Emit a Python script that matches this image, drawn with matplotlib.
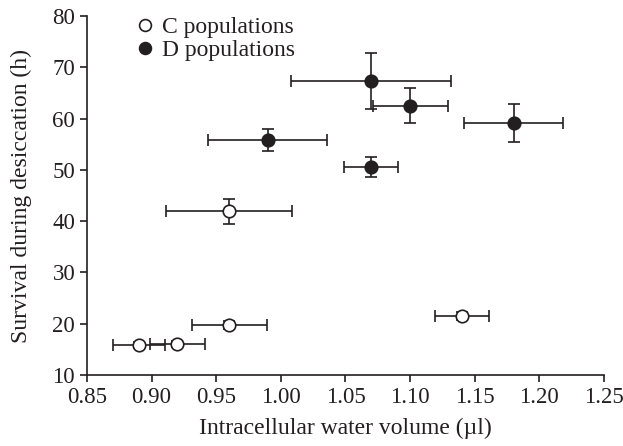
import matplotlib
matplotlib.use("Agg")
from matplotlib import pyplot as plt
from matplotlib.lines import Line2D

# C populations
c_x = [0.89, 0.92, 0.96, 0.96, 1.14]
c_y = [15.9, 16.1, 19.8, 41.9, 21.5]
c_xerr = [0.020, 0.021, 0.029, 0.049, 0.021]
c_yerr = [0.6, 0.6, 0.8, 2.5, 0.8]

# D populations
d_x = [0.99, 1.07, 1.07, 1.10, 1.18]
d_y = [55.8, 50.6, 67.3, 62.5, 59.2]
d_xerr = [0.046, 0.021, 0.062, 0.029, 0.038]
d_yerr = [2.2, 2.0, 5.5, 3.4, 3.7]

xticks = [0.85, 0.90, 0.95, 1.00, 1.05, 1.10, 1.15, 1.20, 1.25]
yticks = [10, 20, 30, 40, 50, 60, 70, 80]

plt.rcParams['font.family'] = ['Liberation Serif', 'DejaVu Serif']
ink = '#231f20'
fs = 17

fig = plt.figure(figsize=(6.23, 4.46), dpi=100)
ax = fig.add_axes([0.1396, 0.1592, 0.8299, 0.8049])

common = dict(fmt='o', color=ink, ecolor=ink, elinewidth=1.2, capsize=4,
              capthick=1.2, markersize=9, markeredgewidth=1.2)
ax.errorbar(c_x, c_y, xerr=c_xerr, yerr=c_yerr, markerfacecolor='white',
            markeredgecolor=ink, zorder=3, **common)
ax.errorbar(d_x, d_y, xerr=d_xerr, yerr=d_yerr, markerfacecolor=ink,
            markeredgecolor=ink, zorder=3, **common)

ax.set_xlim(0.85, 1.25)
ax.set_ylim(10, 80)
ax.set_xticks(xticks)
ax.set_xticklabels(['%.2f' % t for t in xticks])
ax.set_yticks(yticks)
for s in ['top', 'right']:
    ax.spines[s].set_visible(False)
for s in ['left', 'bottom']:
    ax.spines[s].set_color(ink)
    ax.spines[s].set_linewidth(1.2)
ax.tick_params(direction='out', length=5, width=1.2, color=ink,
               labelsize=16.5, labelcolor=ink, pad=3.5)

ax.set_xlabel('Intracellular water volume (\u00b5l)', fontsize=fs, color=ink, labelpad=7)
ax.set_ylabel('Survival during desiccation (h)', fontsize=fs, color=ink)
ax.yaxis.set_label_coords(-0.106, 0.5)

handles = [
    Line2D([], [], ls='none', marker='o', markersize=8.5, markerfacecolor='white',
           markeredgecolor=ink, markeredgewidth=1.2),
    Line2D([], [], ls='none', marker='o', markersize=8.5, markerfacecolor=ink,
           markeredgecolor=ink, markeredgewidth=1.2),
]
leg = ax.legend(handles, ['C populations', 'D populations'], loc='upper left',
                bbox_to_anchor=(0.072, 1.024), frameon=False, fontsize=fs,
                handletextpad=0.2, handlelength=1.0, labelspacing=0.05,
                borderaxespad=0)
for t in leg.get_texts():
    t.set_color(ink)

fig.savefig('out.png', dpi=100)
